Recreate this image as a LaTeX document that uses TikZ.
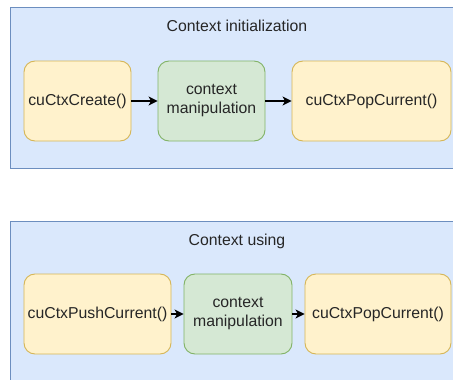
\documentclass[tikz,border=0pt]{standalone}
\usepackage{fontspec}
\setmainfont{Liberation Sans}
\usetikzlibrary{arrows.meta}
\definecolor{grpfill}{HTML}{DAE8FC}
\definecolor{grpline}{HTML}{6C8EBF}
\definecolor{callfill}{HTML}{FFF2CC}
\definecolor{callline}{HTML}{D6B656}
\definecolor{workfill}{HTML}{D5E8D4}
\definecolor{workline}{HTML}{82B366}
\definecolor{ink}{HTML}{262626}
\tikzset{
  group/.style={draw=grpline, fill=grpfill, line width=0.9pt},
  block/.style={rounded corners=11pt, line width=0.9pt, inner sep=0pt,
    minimum height=80pt, align=center, text=ink,
    font=\fontsize{15.8}{19}\selectfont},
  callbox/.style={block, draw=callline, fill=callfill},
  workbox/.style={block, draw=workline, fill=workfill},
  title/.style={text=ink, font=\fontsize{15.8}{19}\selectfont},
  flow/.style={-{Stealth[length=9pt,width=9pt,inset=2.5pt]}, line width=1.2pt, black},
}
\begin{document}
\begin{tikzpicture}[x=1pt,y=-1pt]
\useasboundingbox (0,0) rectangle (453,380);
\clip (0,0) rectangle (453,380);
% initialization group
\draw[group] (10.5,7) rectangle (470,168);
\node[title] (t1) at (237,26) {Context initialization};
\node[callbox, minimum width=107pt] (create) at (77.5,101) {cuCtxCreate()};
\node[workbox, minimum width=107pt] (manip1) at (211.5,101) {context\\manipulation};
\node[callbox, minimum width=159pt] (pop1) at (371.5,101) {cuCtxPopCurrent()};
\draw[flow] (create) -- (manip1);
\draw[flow] (manip1) -- (pop1);
% usage group
\draw[group] (10.5,221) rectangle (470,400);
\node[title] (t2) at (237,241) {Context using};
\node[callbox, minimum width=147pt] (push) at (97.5,314) {cuCtxPushCurrent()};
\node[workbox, minimum width=108pt] (manip2) at (238,314) {context\\manipulation};
\node[callbox, minimum width=146pt] (pop2) at (378,314) {cuCtxPopCurrent()};
\draw[flow] (push) -- (manip2);
\draw[flow] (manip2) -- (pop2);
\end{tikzpicture}
\end{document}
